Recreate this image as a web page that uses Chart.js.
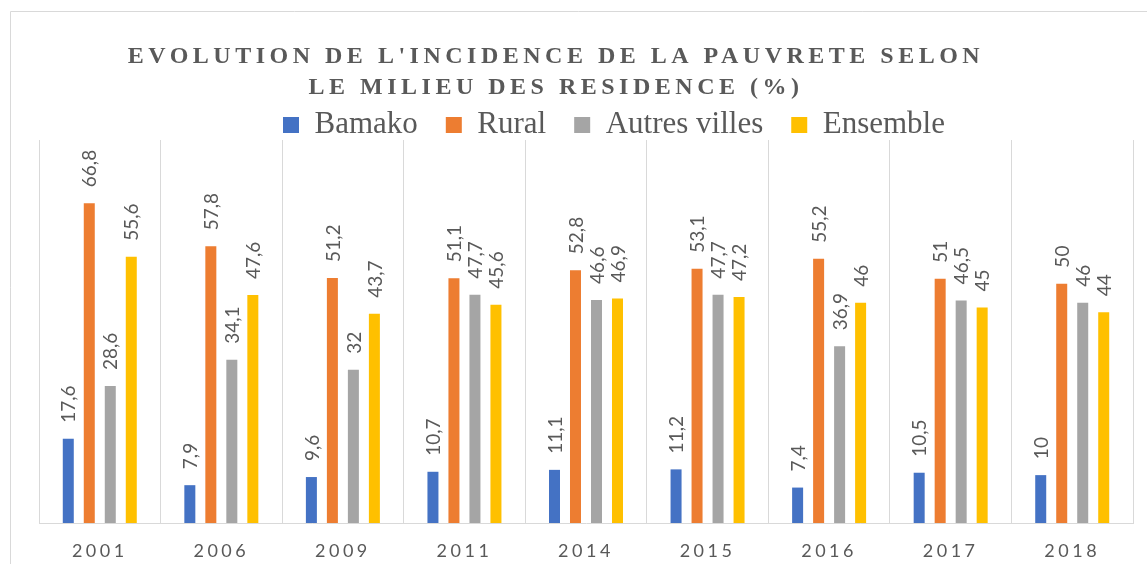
<!DOCTYPE html>
<html>
<head>
<meta charset="utf-8">
<script src="https://cdn.jsdelivr.net/npm/chart.js@4.4.0/dist/chart.umd.min.js"></script>
<style>
html,body{margin:0;padding:0;background:#ffffff;}
canvas{display:block;}
</style>
</head>
<body>
<canvas id="c" width="1147" height="564"></canvas>
<script>
// ---- data ----
const years = ['2001','2006','2009','2011','2014','2015','2016','2017','2018'];
const bamako = [17.6, 7.9, 9.6, 10.7, 11.1, 11.2, 7.4, 10.5, 10];
const rural = [66.8, 57.8, 51.2, 51.1, 52.8, 53.1, 55.2, 51, 50];
const autresVilles = [28.6, 34.1, 32, 47.7, 46.6, 47.7, 36.9, 46.5, 46];
const ensemble = [55.6, 47.6, 43.7, 45.6, 46.9, 47.2, 46, 45, 44];
const seriesNames = ['Bamako', 'Rural', 'Autres villes', 'Ensemble'];
const seriesColors = ['#4472C4', '#ED7D31', '#A5A5A5', '#FFC000'];
const titleLines = ["EVOLUTION DE L'INCIDENCE DE LA PAUVRETE SELON", "LE MILIEU DES RESIDENCE (%)"];
const yMin = 0;
const yMax = 80;

const TEXT = '#595959';
const GRID = '#d9d9d9';

const layoutFix = {
  id: 'layoutFix',
  afterLayout(chart) {
    const t = chart.titleBlock;
    if (t) {
      const h = t.bottom - t.top;
      t.top = 41; t.bottom = 41 + h;
      const w = t.right - t.left, cx = 556;
      t.left = cx - w / 2; t.right = cx + w / 2;
      if (!t._ls) {
        const orig = t.draw;
        t.draw = function (...a) {
          const ctx = this.ctx; ctx.save(); ctx.letterSpacing = '4.5px';
          orig.apply(this, a); ctx.restore();
        };
        t._ls = true;
      }
    }
    const lg = chart.legend;
    if (lg && lg.lineWidths) {
      const pad = lg.options.labels.padding;
      const h = lg.bottom - lg.top;
      lg.top = 109.5 - pad; lg.bottom = lg.top + h;
      const x0 = (lg.left + pad + lg.right - lg.lineWidths[0]) / 2;
      const s = 283 - x0;
      lg.left += s; lg.right += s;
    }
    const xs = chart.scales.x;
    if (xs && !xs._ls) {
      const o = xs.drawLabels;
      xs.drawLabels = function (...a) {
        const ctx = this.ctx; ctx.save(); ctx.letterSpacing = '3.5px';
        o.apply(this, a); ctx.restore();
      };
      xs._ls = true;
    }
  },
  beforeDraw(chart) {
    const ctx = chart.ctx;
    ctx.save();
    ctx.strokeStyle = GRID; ctx.lineWidth = 1;
    ctx.beginPath();
    ctx.moveTo(10.5, 564); ctx.lineTo(10.5, 11.5); ctx.lineTo(1147, 11.5);
    ctx.stroke();
    ctx.restore();
  }
};

const dataLabels = {
  id: 'dataLabels',
  afterDatasetsDraw(chart) {
    const ctx = chart.ctx;
    ctx.save();
    ctx.font = '19px Lato';
    ctx.fillStyle = TEXT;
    ctx.textAlign = 'left';
    ctx.textBaseline = 'middle';
    chart.data.datasets.forEach((ds, i) => {
      const meta = chart.getDatasetMeta(i);
      meta.data.forEach((bar, j) => {
        const txt = String(ds.data[j]).replace('.', ',');
        ctx.save();
        ctx.translate(bar.x + 1, bar.y - 16);
        ctx.rotate(-Math.PI / 2);
        ctx.fillText(txt, 0, 0);
        ctx.restore();
      });
    });
    ctx.restore();
  }
};

const seriesData = [bamako, rural, autresVilles, ensemble];

new Chart(document.getElementById('c'), {
  type: 'bar',
  data: {
    labels: years,
    datasets: seriesNames.map((n, i) => ({
      label: n,
      data: seriesData[i],
      backgroundColor: seriesColors[i],
      borderWidth: 0,
      categoryPercentage: 0.691,
      barPercentage: 0.524
    }))
  },
  options: {
    responsive: false,
    animation: false,
    layout: { padding: { top: 0, left: 39, right: 14, bottom: 2 } },
    plugins: {
      title: {
        display: true,
        text: titleLines,
        color: TEXT,
        font: { family: 'Liberation Serif', size: 24, weight: 'bold', lineHeight: 31 / 24 },
        padding: { top: 0, bottom: 9 }
      },
      legend: {
        display: true,
        position: 'top',
        labels: {
          color: TEXT,
          font: { family: 'Liberation Serif', size: 31 },
          boxWidth: 16,
          boxHeight: 16,
          padding: 28
        }
      },
      tooltip: { enabled: false }
    },
    scales: {
      x: {
        grid: { display: true, color: GRID, lineWidth: 1, offset: true, drawTicks: false },
        border: { display: true, color: GRID, width: 1 },
        ticks: { color: TEXT, font: { family: 'Lato', size: 18 }, padding: 17 },
        afterFit(scale) { scale.height = 39; }
      },
      y: {
        display: false,
        min: yMin,
        max: yMax
      }
    }
  },
  plugins: [layoutFix, dataLabels]
});
</script>
</body>
</html>
